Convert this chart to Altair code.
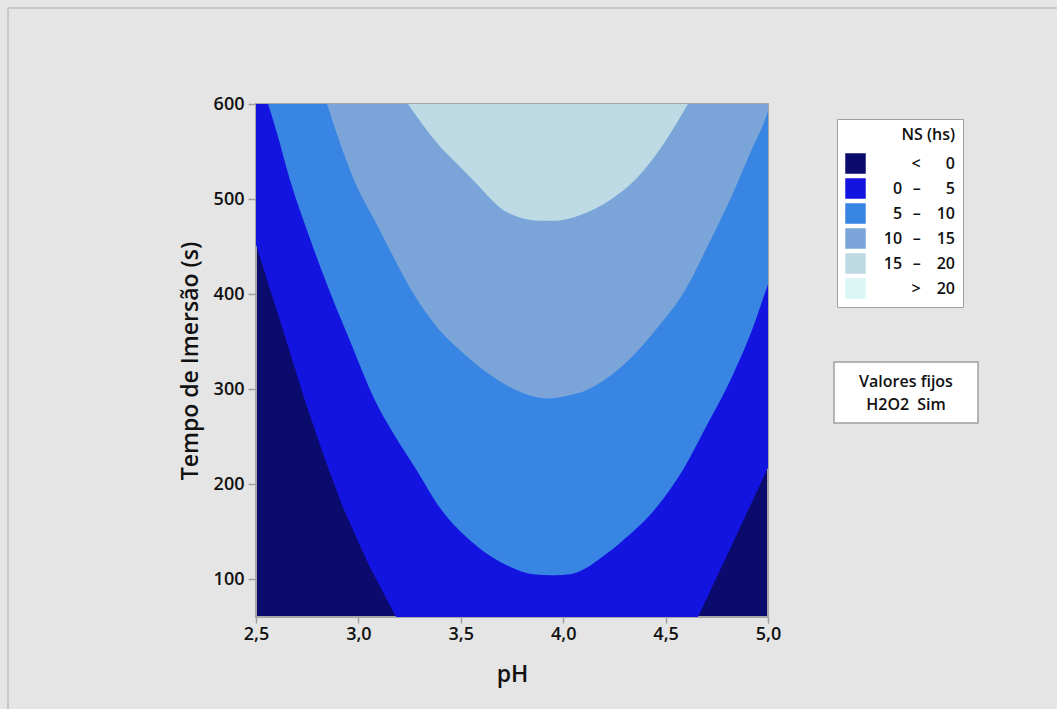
import altair as alt
import pandas as pd

# ---- Contour boundaries (lower edge of each band, Tempo in s vs pH) ----
ph_0 = [2.50, 2.62, 2.739, 2.83, 2.925, 3.05, 3.184, 4.658, 4.75, 4.85, 4.93, 5.00]
t_0 = [452, 370, 288, 230, 175, 115, 60, 60, 102, 148, 185, 217]

ph_5 = [2.559, 2.603, 2.666, 2.754, 2.852, 2.96, 3.081, 3.169, 3.286, 3.398, 3.560, 3.740, 3.853,
        3.95, 4.033, 4.214, 4.277, 4.458, 4.585, 4.702, 4.80, 4.839, 4.922, 4.985, 5.00]
t_5 = [600, 569, 520, 464, 407, 350, 288, 254, 214, 175, 138, 113, 105,
       104, 105, 127, 138, 176, 215, 262, 302, 320, 362, 401, 410]

ph_10 = [2.847, 2.910, 2.993, 3.071, 3.154, 3.267, 3.384, 3.511, 3.677, 3.800, 3.921, 4.020,
         4.116, 4.277, 4.458, 4.595, 4.702, 4.814, 4.912, 4.990, 5.00]
t_10 = [600, 559, 513, 481, 446, 401, 365, 338, 310, 296, 290, 293,
        299, 322, 364, 404, 449, 499, 548, 586, 592]

ph_15 = [3.242, 3.384, 3.496, 3.560, 3.726, 3.887, 3.95, 4.082, 4.229, 4.360, 4.487, 4.609]
t_15 = [600, 559, 534, 520, 486, 477, 477, 483, 499, 522, 557, 600]

band_labels = [
    "<\u2003\u20070",
    "0\u2002\u2009\u2013\u2003\u20075",
    "5\u2002\u2009\u2013\u200310",
    "10\u2002\u2009\u2013\u200315",
    "15\u2002\u2009\u2013\u200320",
    ">\u200320",
]
band_colors = ["#0b0a6d", "#1414e1", "#3885e3", "#7ba5d8", "#bedbe5", "#dbf7f5"]
band_interp = ["linear", "linear", "monotone", "monotone", "monotone"]

x_ticks = [2.5, 3.0, 3.5, 4.0, 4.5, 5.0]
y_ticks = [100, 200, 300, 400, 500, 600]
info_lines = ["Valores fijos", "H2O2\u2002Sim"]

FONT = "Open Sans"

rows = []
for k, (xs, ys) in enumerate([(ph_0, t_0), (ph_5, t_5), (ph_10, t_10), (ph_15, t_15)], start=1):
    for x, y in zip(xs, ys):
        rows.append({"k": k, "band": band_labels[k], "ph": x, "tempo": y})
df = pd.DataFrame(rows)

xscale = alt.Scale(domain=[2.5, 5.0], nice=False, zero=False)
yscale = alt.Scale(domain=[60, 600], nice=False, zero=False)
cscale = alt.Scale(domain=band_labels, range=band_colors)

xaxis = alt.Axis(values=x_ticks, labelExpr="replace(format(datum.value, '.1f'), '.', ',')",
                 tickSize=6, labelPadding=2, titlePadding=20, grid=False, domain=False,
                 labelFlush=False)
yaxis = alt.Axis(values=y_ticks, format="d", tickSize=8, labelPadding=4, titlePadding=11,
                 grid=False, domain=False, labelFlush=False)

legend = alt.Legend(
    title="NS (hs)", orient="none", legendX=581, legendY=15,
    symbolType="square", symbolSize=420, symbolStrokeWidth=0, symbolOpacity=1,
    fillColor="white", strokeColor="#a0a0a0", padding=8,
    titleAnchor="end", titlePadding=10, rowPadding=4,
    labelAlign="right", labelOffset=89,
    labelFont=FONT, labelFontSize=16, labelFontWeight=600, labelColor="#111",
    titleFont=FONT, titleFontSize=16, titleFontWeight=600, titleColor="#111",
)

layers = []
for k in range(1, 5):
    layers.append(
        alt.Chart(df).transform_filter(alt.datum.k == k)
        .mark_area(opacity=1, interpolate=band_interp[k])
        .encode(
            x=alt.X("ph:Q", scale=xscale, axis=xaxis, title="pH"),
            y=alt.Y("tempo:Q", scale=yscale, axis=yaxis, title="Tempo de Imersão (s)"),
            y2=alt.datum(600),
            color=alt.Color("band:N", scale=cscale, legend=legend),
        )
    )

one = alt.Data(values=[{"txt": "\n".join(info_lines)}])

info_box = alt.Chart(one).mark_rect(fill="white", stroke="#a0a0a0", strokeWidth=1.5).encode(
    x=alt.value(578), x2=alt.value(722), y=alt.value(258), y2=alt.value(319)
)
info_text = alt.Chart(one).mark_text(
    lineBreak="\n", lineHeight=23, font=FONT, fontSize=16, fontWeight=600,
    color="#111", align="center", baseline="middle"
).encode(x=alt.value(650), y=alt.value(278), text="txt:N")

frame_left = alt.Chart(one).mark_rule(color="#c8c8c8", strokeWidth=2).encode(
    x=alt.value(-248), y=alt.value(-96), y2=alt.value(605)
)
frame_top = alt.Chart(one).mark_rule(color="#c8c8c8", strokeWidth=2).encode(
    x=alt.value(-248), x2=alt.value(801), y=alt.value(-96)
)

chart = alt.layer(*layers, info_box, info_text, frame_left, frame_top).properties(
    width=512, height=513,
    autosize=alt.AutoSizeParams(type="none"),
    padding={"left": 256, "top": 104, "right": 289, "bottom": 92},
    background="#e5e5e5",
).configure_view(
    fill="#0b0a6d", stroke="#a6a6a6", strokeWidth=2
).configure_axis(
    labelFont=FONT, labelFontSize=18, labelFontWeight=600, labelColor="#111",
    titleFont=FONT, titleFontSize=23, titleFontWeight=600, titleColor="#111",
    tickColor="#a0a0a0", tickWidth=1.5,
)

chart.save("out.html", embed_options={"renderer": "svg", "actions": False})
